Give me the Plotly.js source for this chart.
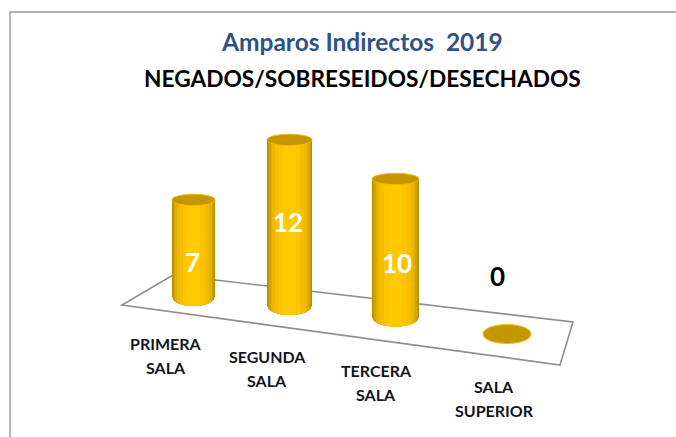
<!DOCTYPE html>
<html><head><meta charset="utf-8">
<script src="https://cdn.plot.ly/plotly-3.0.1.min.js"></script>
<style>html,body{margin:0;padding:0;background:#fff}#c{width:676px;height:437px}</style></head>
<body><div id="c"></div>
<script>
const titleLine1 = 'Amparos Indirectos\u00A0\u00A02019';
const titleLine2 = 'NEGADOS/SOBRESEIDOS/DESECHADOS';
const categories = ['PRIMERA|SALA','SEGUNDA|SALA','TERCERA|SALA','SALA|SUPERIOR'];
const values = [7,12,10,0];

// layout constants (pixels of the 676x437 frame)
const W=676,H=437,S=13.8;
const cx=[193.5,289.5,395.5,507];
const floorPx=[296.5,305.5,317,334];
const rx=[21.5,22.5,23.5,24];
const labelX=[166,267,376,494];
const labelY=[343,356,370,386];
const valueX=[192,288,397,497];
const valueY=[262,222,263,276];
const layerFrac=[1,.95,.9,.84,.76,.64,.48,.28];
const layerCol=['#b98c00','#c59700','#d4a300','#e2ae00','#eeb700','#f7be00','#fdc400','#ffc900'];
const floorPts=[[122,305],[173,275],[573,322],[560,365]];
const Y=p=>(H-p)/S;

const base=floorPx.map(Y);
const traces=layerFrac.map((f,i)=>({
  type:'bar',x:cx,y:values,base:base,
  width:rx.map(r=>2*r*f),
  marker:{color:layerCol[i],line:{width:0}},
  hoverinfo:'skip',showlegend:false
}));

const shapes=[];
shapes.push({type:'path',xref:'x',yref:'y',layer:'below',
  path:'M'+floorPts.map(p=>p[0]+','+Y(p[1])).join(' L')+' Z',
  fillcolor:'#fff',line:{color:'#8f8f8f',width:1.6}});
shapes.push({type:'path',xref:'x',yref:'y',layer:'below',
  path:`M10,${Y(437)} L10,${Y(12)} L676,${Y(12)}`,
  line:{color:'#9a9a9a',width:1.5}});
const RB=9.5,RT=5.7;
values.forEach((v,i)=>{
  if(v>0){
    layerFrac.forEach((f,j)=>{
      const hw=rx[i]*f; const pts=[(cx[i]-hw).toFixed(3)+','+(base[i]+0.05).toFixed(4)];
      for(let k=0;k<=24;k++){
        const dx=-hw+2*hw*k/24;
        pts.push((cx[i]+dx).toFixed(3)+','+(base[i]-RB/S*Math.sqrt(Math.max(0,1-(dx/rx[i])**2))).toFixed(4));
      }
      pts.push((cx[i]+hw).toFixed(3)+','+(base[i]+0.05).toFixed(4));
      shapes.push({type:'path',xref:'x',yref:'y',layer:'below',
        path:'M'+pts.join(' L')+' Z',fillcolor:layerCol[j],opacity:1,line:{width:0}});
    });
    shapes.push({type:'circle',xref:'x',yref:'y',layer:'above',
      x0:cx[i]-rx[i],x1:cx[i]+rx[i],y0:base[i]+v-RT/S,y1:base[i]+v+RT/S,
      fillcolor:'#c49600',line:{color:'#f2bd00',width:1}});
  } else {
    shapes.push({type:'circle',xref:'x',yref:'y',layer:'above',
      x0:cx[i]-rx[i],x1:cx[i]+rx[i],y0:base[i]-RB/S,y1:base[i]+RB/S,
      fillcolor:'#c49600',line:{color:'#f2bd00',width:1}});
  }
});

const annotations=[];
const txt=(x,y,text,size,color)=>annotations.push({xref:'x',yref:'y',x:x,y:Y(y),text:text,showarrow:false,
  xanchor:'center',yanchor:'middle',font:{family:'Lato',size:size,color:color}});
txt(362,41,'<b>'+titleLine1+'</b>',24.5,'#2f5286');
txt(362,78,'<b>'+titleLine2+'</b>',22.7,'#000');
categories.forEach((c,i)=>{
  c.split('|').forEach((line,j)=>txt(labelX[i],labelY[i]+j*24,'<b>'+line+'</b>',16,'#14141e'));
});
values.forEach((v,i)=>txt(valueX[i],valueY[i],'<b>'+v+'</b>',26,v>0?'#fff':'#000'));

Plotly.newPlot('c',traces,{
  width:W,height:H,margin:{l:0,r:0,t:0,b:0},
  barmode:'overlay',bargap:0,
  paper_bgcolor:'#fff',plot_bgcolor:'rgba(0,0,0,0)',
  xaxis:{range:[0,W],visible:false,fixedrange:true},
  yaxis:{range:[0,H/S],visible:false,fixedrange:true},
  shapes:shapes,annotations:annotations,showlegend:false
},{displayModeBar:false,staticPlot:true});
</script></body></html>
